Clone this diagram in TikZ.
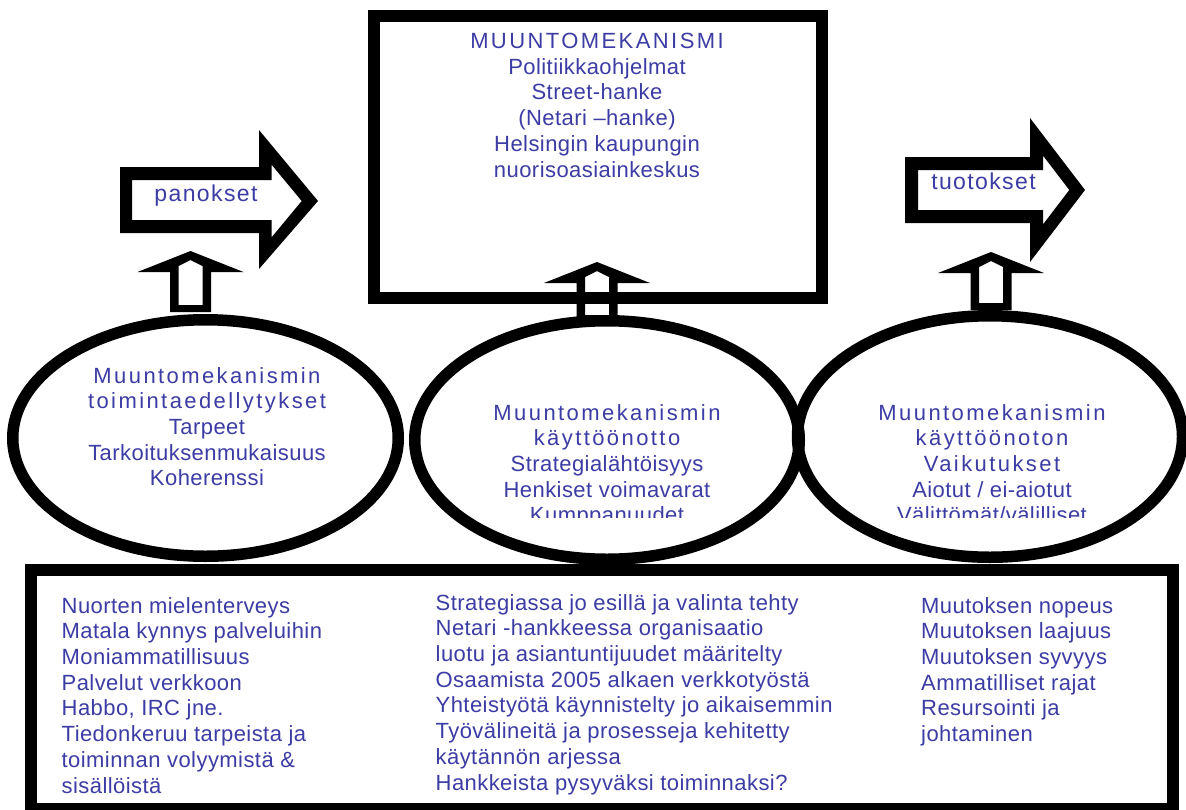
\documentclass[tikz,border=0pt]{standalone}
\usepackage{fontspec}
\setmainfont{Liberation Sans}
\newfontfamily\hfont[LetterSpace=11]{Liberation Sans}
\newfontfamily\bfont[LetterSpace=2]{Liberation Sans}
\newfontfamily\afont[LetterSpace=6]{Liberation Sans}
\usetikzlibrary{shapes.geometric}
\definecolor{txtblue}{RGB}{60,60,165}
\newcommand\hdl[1]{{\hfont #1}}
% outlined upward block arrow: centre x, tip y, bottom y
\newcommand\blockup[3]{%
  \fill[black,even odd rule]
    (#1,#2) -- ({#1+53},{#2+21}) -- ({#1+20.5},{#2+21}) -- ({#1+20.5},#3)
    -- ({#1-20.5},#3) -- ({#1-20.5},{#2+21}) -- ({#1-53},{#2+21}) -- cycle
    (#1,{#2+9}) -- ({#1+12},{#2+15}) -- ({#1+12},{#3-7})
    -- ({#1-12},{#3-7}) -- ({#1-12},{#2+15}) -- cycle;}
\begin{document}
\begin{tikzpicture}[x=1pt,y=-1pt,
  frame/.style={draw=black,line width=12pt,rectangle,inner sep=0pt},
  oval/.style={draw=black,line width=11.5pt,ellipse,inner sep=0pt},
  txt/.style={text=txtblue,inner sep=0pt,font=\fontsize{22}{25.7}\selectfont\bfont},
  arrtxt/.style={text=txtblue,inner sep=0pt,font=\fontsize{23}{26}\selectfont\afont}]
\clip (0,0) rectangle (1186,809);
\useasboundingbox (0,0) rectangle (1186,809);
\fill[white] (0,0) rectangle (1186,809);

% top box
\node[frame,minimum width=447.5pt,minimum height=282pt] (top) at (597.75,157) {};

% right-pointing block arrows
\fill[black,even odd rule]
  (120,167) -- (259,167) -- (259,130) -- (318,201) -- (259,269) -- (259,233) -- (120,233) -- cycle
  (132,180) -- (271.7,180) -- (271.7,164.8) -- (301.7,201) -- (271.7,237.2) -- (271.7,220) -- (132,220) -- cycle;
\fill[black,even odd rule]
  (905,157) -- (1030,157) -- (1030,118) -- (1085,190) -- (1030,262) -- (1030,223) -- (905,223) -- cycle
  (918,170) -- (1043,170) -- (1043,155.6) -- (1069.3,190) -- (1043,224.4) -- (1043,210) -- (918,210) -- cycle;
\node[arrtxt] (pan) at (206,195.7) {panokset};
\node[arrtxt] (tuo) at (983.5,181.6) {tuotokset};

% upward block arrows
\blockup{190.5}{251}{312}
\blockup{597}{262}{322}
\blockup{991}{252}{310}

% ellipses
\node[oval,minimum width=385.5pt,minimum height=236.5pt] (e1) at (205.5,438) {};
\node[oval,minimum width=384.5pt,minimum height=238.5pt] (e2) at (607,440) {};
\node[oval,minimum width=385pt,minimum height=241.5pt] (e3) at (990,436.5) {};

% bottom box
\node[frame,minimum width=1142pt,minimum height=239pt] (bot) at (602,689.5) {};

% texts
\node[txt,align=center,anchor=north] (ttop) at (597,33) {\hdl{MUUNTOMEKANISMI}\\Politiikkaohjelmat\\Street-hanke\\(Netari –hanke)\\Helsingin kaupungin\\nuorisoasiainkeskus};

\node[txt,align=center,anchor=north] (t1) at (207,367) {\hdl{Muuntomekanismin}\\\hdl{toimintaedellytykset}\\Tarpeet\\Tarkoituksenmukaisuus\\Koherenssi};

\begin{scope}
\clip (400,300) rectangle (1186,517);
\node[txt,align=center,anchor=north] (t2) at (607,404) {\hdl{Muuntomekanismin}\\\hdl{käyttöönotto}\\Strategialähtöisyys\\Henkiset voimavarat\\Kumppanuudet};
\node[txt,align=center,anchor=north] (t3) at (992,404) {\hdl{Muuntomekanismin}\\\hdl{käyttöönoton}\\\hdl{Vaikutukset}\\Aiotut / ei-aiotut\\Välittömät/välilliset};
\end{scope}

\node[txt,align=left,anchor=north west] (b1) at (61.5,597) {Nuorten mielenterveys\\Matala kynnys palveluihin\\Moniammatillisuus\\Palvelut verkkoon\\Habbo, IRC jne.\\Tiedonkeruu tarpeista ja\\toiminnan volyymistä \&\\sisällöistä};
\node[txt,align=left,anchor=north west] (b2) at (435.5,594) {Strategiassa jo esillä ja valinta tehty\\Netari -hankkeessa organisaatio\\luotu ja asiantuntijuudet määritelty\\Osaamista 2005 alkaen verkkotyöstä\\Yhteistyötä käynnistelty jo aikaisemmin\\Työvälineitä ja prosesseja kehitetty\\käytännön arjessa\\Hankkeista pysyväksi toiminnaksi?};
\node[txt,align=left,anchor=north west] (b3) at (921,597) {Muutoksen nopeus\\Muutoksen laajuus\\Muutoksen syvyys\\Ammatilliset rajat\\Resursointi ja\\johtaminen};
\end{tikzpicture}
\end{document}
